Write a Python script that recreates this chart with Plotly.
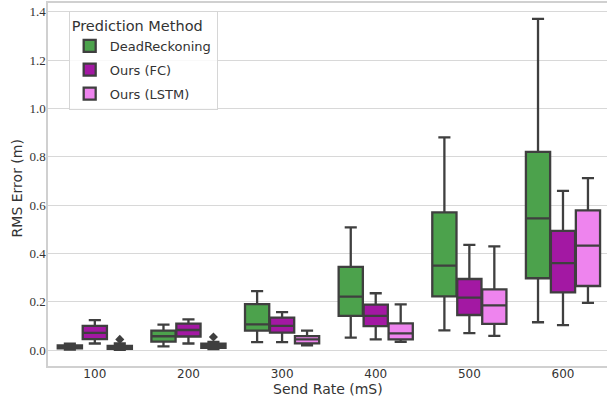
import plotly.graph_objects as go

send_rates = ["100", "200", "300", "400", "500", "600"]
methods = ["DeadReckoning", "Ours (FC)", "Ours (LSTM)"]

dr_lower = [0.002, 0.015, 0.033, 0.051, 0.081, 0.115]
dr_q1 = [0.007, 0.035, 0.080, 0.141, 0.222, 0.297]
dr_median = [0.013, 0.057, 0.106, 0.221, 0.349, 0.545]
dr_q3 = [0.019, 0.080, 0.190, 0.344, 0.570, 0.820]
dr_upper = [0.026, 0.105, 0.244, 0.508, 0.880, 1.370]

fc_lower = [0.027, 0.027, 0.033, 0.044, 0.070, 0.103]
fc_q1 = [0.045, 0.056, 0.072, 0.099, 0.145, 0.239]
fc_median = [0.071, 0.083, 0.100, 0.141, 0.217, 0.360]
fc_q3 = [0.100, 0.109, 0.134, 0.188, 0.294, 0.493]
fc_upper = [0.124, 0.127, 0.157, 0.235, 0.435, 0.659]

lstm_lower = [0.001, 0.004, 0.019, 0.034, 0.059, 0.195]
lstm_q1 = [0.005, 0.009, 0.028, 0.044, 0.108, 0.265]
lstm_median = [0.010, 0.018, 0.044, 0.069, 0.185, 0.432]
lstm_q3 = [0.017, 0.026, 0.058, 0.110, 0.251, 0.578]
lstm_upper = [0.027, 0.034, 0.080, 0.189, 0.429, 0.711]

lstm_outlier_rates = ["100", "200"]
lstm_outlier_values = [0.044, 0.054]

y_ticks = [0.0, 0.2, 0.4, 0.6, 0.8, 1.0, 1.2, 1.4]

colors = ["#4ca24c", "#a318a3", "#ee84ee"]
edge = "#3f3f3f"
box_w = 0.8 / 3
offsets = [-box_w, 0.0, box_w]

stats = [
    (dr_lower, dr_q1, dr_median, dr_q3, dr_upper),
    (fc_lower, fc_q1, fc_median, fc_q3, fc_upper),
    (lstm_lower, lstm_q1, lstm_median, lstm_q3, lstm_upper),
]

fig = go.Figure()
for k, (name, col, off, st) in enumerate(zip(methods, colors, offsets, stats)):
    lo, q1, med, q3, hi = st
    xs = [i + off for i in range(len(send_rates))]
    fig.add_trace(go.Box(
        name=name, x=xs, q1=q1, median=med, q3=q3,
        lowerfence=lo, upperfence=hi,
        width=box_w * 0.97, whiskerwidth=0.5,
        fillcolor=col, line=dict(color=edge, width=2.3),
        boxpoints=False, hoverinfo="skip",
        legendgroup=f"g{k}",
    ))

ox = [send_rates.index(r) + offsets[2] for r in lstm_outlier_rates]
fig.add_trace(go.Scatter(
    x=ox, y=lstm_outlier_values, mode="markers", showlegend=False,
    marker=dict(symbol="diamond", size=7, color=edge),
    hoverinfo="skip",
))

W, H = 607, 398
ml, mr, mt, mb = 48, 0, 3, 32

fig.update_layout(
    width=W, height=H,
    margin=dict(l=ml, r=mr, t=mt, b=mb),
    paper_bgcolor="white", plot_bgcolor="white",
    boxmode="overlay",
    font=dict(family="DejaVu Sans", color="#333333"),
    legend=dict(
        x=0.037, y=0.978, xanchor="left", yanchor="top",
        title=dict(text="Prediction Method", font=dict(size=14.5, family="DejaVu Sans", color="#333333")),
        font=dict(size=13, family="DejaVu Sans", color="#333333"),
        bgcolor="rgba(255,255,255,0.85)", bordercolor="#d6d6d6", borderwidth=1,
        tracegroupgap=4, itemwidth=30,
    ),
    xaxis=dict(
        range=[-0.5, 5.47],
        tickmode="array", tickvals=list(range(len(send_rates))), ticktext=send_rates,
        tickfont=dict(size=12, family="DejaVu Sans", color="#333333"),
        showgrid=False, zeroline=False, ticks="", ticklabelstandoff=-4,
        showline=True, mirror=True, linecolor="#d0d0d0", linewidth=1.5,
    ),
    yaxis=dict(
        range=[-0.066, 1.436],
        tickmode="array", tickvals=y_ticks, ticktext=[f"{v:.1f}" for v in y_ticks],
        tickfont=dict(size=13, family="Liberation Serif", color="#333333"),
        showgrid=True, gridcolor="#d8d8d8", gridwidth=1.3,
        zeroline=False, ticks="", ticklabelstandoff=-2,
        showline=True, mirror=False, linecolor="#d0d0d0", linewidth=1.5,
    ),
    annotations=[
        dict(text="Send Rate (mS)", xref="paper", yref="paper",
             x=0.5, y=-0.062, xanchor="center", yanchor="middle",
             showarrow=False, font=dict(size=14, family="DejaVu Sans", color="#333333")),
        dict(text="RMS Error (m)", xref="paper", yref="paper",
             x=-0.055, y=0.49, xanchor="center", yanchor="middle", textangle=-90,
             showarrow=False, font=dict(size=14, family="DejaVu Sans", color="#333333")),
    ],
)

fig.write_html("out.html", config={"displayModeBar": False},
               post_script="document.body.style.margin='0px';")
